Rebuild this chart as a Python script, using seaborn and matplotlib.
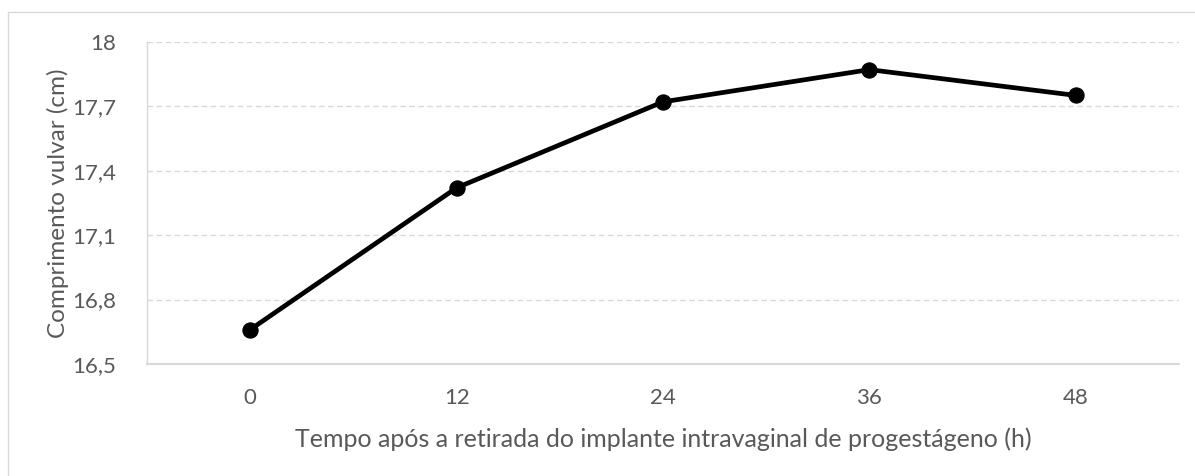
import matplotlib
matplotlib.use("Agg")
import matplotlib.pyplot as plt
import seaborn as sns
import pandas as pd
from matplotlib.patches import Rectangle

hours = ["0", "12", "24", "36", "48"]
length_cm = [16.66, 17.32, 17.72, 17.87, 17.75]
yticks = [16.5, 16.8, 17.1, 17.4, 17.7, 18.0]
ytick_labels = ["16,5", "16,8", "17,1", "17,4", "17,7", "18"]

sns.set_theme(style="white")
plt.rcParams['font.family'] = ['Lato', 'DejaVu Sans']

df = pd.DataFrame({"h": hours, "v": length_cm})

fig = plt.figure(figsize=(11.95, 4.76), dpi=100)
ax = fig.add_axes([147/1195, 1-364/476, (1179-147)/1195, (364-41.7)/476])

sns.lineplot(data=df, x="h", y="v", sort=False, color="black", linewidth=3.4,
             marker="o", markersize=11, markeredgecolor="black", ax=ax)

ax.set_xlim(-0.5, 4.5)
ax.set_ylim(16.5, 18.0)
ax.set_yticks(yticks)
ax.set_yticklabels(ytick_labels)
ax.grid(axis="y", color="#d9d9d9", linestyle=(0, (4, 2.5)), linewidth=1.0)
ax.grid(axis="x", visible=False)
ax.set_axisbelow(True)

for s in ["top", "right"]:
    ax.spines[s].set_visible(False)
ax.spines["left"].set_color("#d9d9d9")
ax.spines["left"].set_linewidth(1.0)
ax.spines["bottom"].set_color("#d9d9d9")
ax.spines["bottom"].set_linewidth(1.5)

ax.tick_params(axis="both", length=0, labelsize=16, labelcolor="#595959")
ax.tick_params(axis="x", pad=17)
ax.tick_params(axis="y", pad=22)

ax.set_xlabel("Tempo após a retirada do implante intravaginal de progestágeno (h)",
              fontsize=18, color="#595959", labelpad=14)
ax.set_ylabel("Comprimento vulvar (cm)", fontsize=17.5, color="#595959")
ax.yaxis.set_label_coords(-0.076, 0.5)

fig.patches.append(Rectangle((8/1195, -0.1), 1.2, 1 - 12/476 + 0.1,
                             transform=fig.transFigure, fill=False,
                             edgecolor="#d9d9d9", linewidth=1.0))

fig.savefig("out.png", dpi=100)
